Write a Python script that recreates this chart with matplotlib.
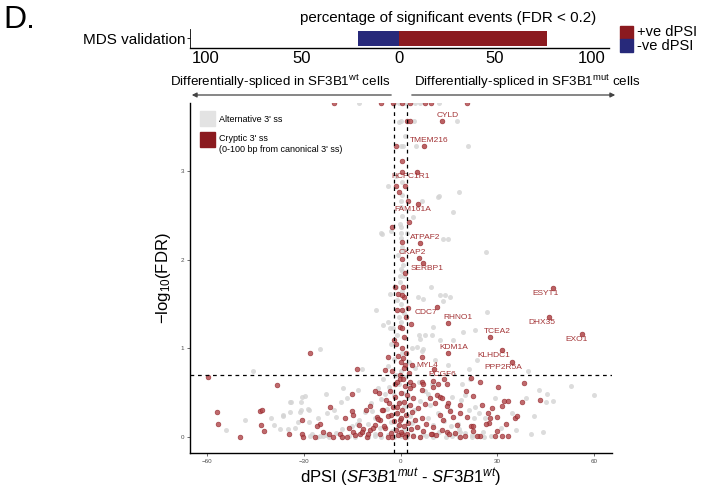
import matplotlib
matplotlib.use("Agg")
import matplotlib.pyplot as plt
from matplotlib.patches import Rectangle, FancyArrowPatch

plt.rcParams['font.family'] = 'Liberation Sans'
plt.rcParams['mathtext.fontset'] = 'custom'
plt.rcParams['mathtext.rm'] = 'Liberation Sans'
plt.rcParams['mathtext.it'] = 'Liberation Sans:italic'
plt.rcParams['mathtext.default'] = 'regular'

################
# DATA
################
# top bar: percentage of significant events
bar_categories = ["MDS validation"]
pos_pct = [77]
neg_pct = [21]

# labelled genes (dPSI, -log10 FDR)
gene_names = ["CYLD", "TMEM216", "HCFC1R1", "FAM161A", "ATPAF2", "CKAP2", "SERBP1",
              "CDC7", "RHNO1", "TCEA2", "ESYT1", "DHX35", "EXO1", "KDM1A", "KLHDC1",
              "PPP2R5A", "MYL4", "PCGF6"]
gene_dpsi = [12.8, 7.3, 5.2, 5.4, 6.0, 5.7, 7.0, 11.3, 14.7, 27.7, 47.2, 46.0, 56.2,
             14.7, 31.4, 34.5, 3.5, 10.4]
gene_fdr = [3.57, 3.28, 2.99, 2.63, 2.19, 2.02, 1.96, 1.47, 1.29, 1.13, 1.68, 1.35, 1.16,
            0.95, 0.98, 0.85, 0.81, 0.77]

# cryptic 3' ss events
red_dpsi = [-20.5, -6.0, -2.4, 0.5, 2.9, 7.6, 9.4, 20.5,
            1.9, 2.9, -1.5, 0.4, 0.4, -1.4, 1.4, -0.4, 2.2, -2.7, 2.7, 0.4, 0.4, 1.4, 0.7,
            -1.7, -0.7, 1.1, 0.4, -1.0, 0.4, 2.4, 1.7, 3.2, -0.2, 0.4, 1.2, -2.0, -3.8, 0.9,
            6.6, 1.4, -4.8, -0.2, -1.7, 2.9, 4.0,
            6.6, 7.1, 6.6, 10.0, 10.2, 11.2, 12.2, 13.6, 14.3, 11.5, 20.2, 21.7, 24.6, 30.2,
            38.1, 32.0, 33.4, 31.3, 37.5, 43.1, 25.1, 22.5, 18.4, 14.8, 12.9, 9.1, 10.7, 7.6,
            27.2, 29.8, 27.7, 27.5, 28.2, 35.4, 36.2, 32.7, 29.8, 29.3, 31.3, 33.4, 24.6, 23.6,
            21.7, 22.5, 20.0, 20.5, 17.6, 18.4, 15.3, 14.3, 16.3, 12.2, 13.1, 10.2, 9.7, 14.3,
            22.3, 26.5,
            -59.7, -28.0, -38.3, -56.7, -56.4, -49.7, -43.5, -43.0, -43.1, -42.2, -34.4, -30.5,
            -30.1, -26.5, -30.4, -24.9, -25.9, -23.9, -21.8, -15.1, -14.8, -17.2, -10.8, -9.4,
            -12.8, -13.6, -14.9, -7.9, -6.6, -22.0, -20.8, -18.7, -16.7, -14.6, -12.5, -11.7,
            -10.5, -9.4, -7.9, -7.4, -6.3, -5.3, -4.8, -3.5, -3.0, -1.2, -0.2, 0.4,
            -1.5, 0.5, 1.8, -0.8, 0.2, 1.0, -2.5, 2.5, -0.3, 0.8, -1.2, 1.5, 3.0, -3.2, 0.0,
            2.0, -1.8, 4.0, -4.5, 1.2, -0.6, 2.8, -2.2, 5.5, 0.5, -5.8, 3.5, -1.0, 1.8, -3.8,
            6.5, 0.0, -7.0, 4.5, -2.0, 2.3, 8.0, -0.5, -5.0, 1.0, 5.2, -8.5, 3.2, -1.5, 7.0,
            0.3, -3.0, 2.0, -6.2, 9.5, -0.8, 4.0, 1.5, -2.5, 6.0, -4.0, 11.0, -10.0, 13.0,
            -12.0, 15.0, 17.0, -14.0, -16.0, 18.5, -18.0]
red_fdr = [3.77, 3.77, 3.77, 3.77, 3.77, 3.77, 3.77, 3.77,
           3.57, 3.57, 3.28, 3.11, 2.99, 2.83, 2.83, 2.77, 2.66, 2.37, 2.43, 2.20, 2.01, 1.85,
           1.69, 1.69, 1.62, 1.58, 1.60, 1.43, 1.43, 1.46, 1.36, 1.28, 1.24, 1.23, 1.13, 1.09,
           0.90, 0.89, 0.90, 0.81, 0.76, 0.66, 0.60, 0.62, 0.59,
           0.62, 0.60, 0.53, 0.57, 0.63, 0.47, 0.45, 0.66, 0.60, 0.60, 0.52, 0.67, 0.62, 0.56,
           0.61, 0.41, 0.41, 0.35, 0.39, 0.42, 0.36, 0.46, 0.36, 0.38, 0.44, 0.44, 0.38, 0.37,
           0.27, 0.23, 0.21, 0.16, 0.33, 0.21, 0.24, 0.15, 0.07, 0.01, 0.01, 0.01, 0.01, 0.01,
           0.12, 0.07, 0.01, 0.23, 0.14, 0.27, 0.29, 0.35, 0.23, 0.25, 0.19, 0.11, 0.04, 0.06,
           0.12, 0.15,
           0.68, 0.95, 0.59, 0.28, 0.15, 0.00, 0.29, 0.30, 0.14, 0.07, 0.04, 0.04,
           0.00, 0.00, 0.19, 0.15, 0.12, 0.06, 0.34, 0.29, 0.25, 0.21, 0.31, 0.35,
           0.14, 0.77, 0.49, 0.52, 0.50, 0.04, 0.00, 0.04, 0.00, 0.06, 0.04, 0.09,
           0.00, 0.08, 0.14, 0.23, 0.19, 0.30, 0.10, 0.38, 0.25, 0.34, 0.19, 0.04,
           1.05, 1.00, 0.95, 0.92, 0.85, 0.78, 0.75, 0.72, 0.70, 0.65, 0.62, 0.58, 0.55, 0.52,
           0.50, 0.48, 0.45, 0.44, 0.42, 0.40, 0.38, 0.36, 0.34, 0.33, 0.31, 0.30, 0.28, 0.27,
           0.25, 0.24, 0.22, 0.21, 0.20, 0.19, 0.18, 0.16, 0.15, 0.14, 0.13, 0.12, 0.11, 0.10,
           0.09, 0.08, 0.07, 0.06, 0.05, 0.04, 0.03, 0.03, 0.02, 0.01, 0.00, 0.00, 0.00, 0.00,
           0.02, 0.04, 0.08, 0.06, 0.03, 0.05, 0.02, 0.10, 0.00, 0.00]

# alternative 3' ss events
grey_dpsi = [-12.8, -2.0, -0.5, 1.5, 4.5, 6.0, 12.0,
             0.2, 4.2, 17.6, 0.9, 4.8, 20.8, -3.8, 0.4, 12.0, 18.2, 0.2, 6.6, 11.5, -6.0, -5.8,
             -2.9, 0.0, 4.0, 0.1, 2.1, 16.3, 13.3, 14.8, 0.4, 0.7, 0.5, 26.5, 9.4, -1.4, -0.3,
             5.5, 7.1, 12.2, 13.8, 15.3, 13.3, -3.3, -7.6, 26.7, -3.8, -2.3, -5.3, -3.3, 10.2,
             5.8, 7.6, 9.7, 19.3, 23.1, 6.0, 12.2, 16.3, 5.0, 7.1, 6.6, 10.7, 14.8, 23.6, 39.6,
             52.9, 60.0, 21.3, 42.9, 45.5, 45.0, 47.1, 34.4, 35.8, 40.3, 44.0, 41.4, 31.0, 29.3,
             23.1, 18.9, 21.5, 9.7, 15.9, 24.4, 16.9, 25.6, 20.0, 18.7, 21.2, 22.8, 15.3, 17.9,
             18.4, 8.6, 26.2, 39.0,
             -24.9, -45.8, -54.1, -48.1, -40.2, -36.4, -37.3, -34.2, -30.8, -29.6, -31.6, -31.1,
             -33.9, -30.6, -23.2, -17.7, -13.1, -4.8, -36.3, -34.2, -30.9, -28.3, -28.3, -25.6,
             -22.9, -20.5, -20.0, -18.4, -16.7, -13.6, -8.9, -27.5, -24.9, -12.0, -39.1, -34.7,
             -32.7, -28.5,
             0.3, -0.5, 1.0, 0.0, -1.0, 0.6, -0.3, 1.2, 0.0, -0.8, 0.5, 0.2, -0.2, 0.6, 0.0,
             0.4, -1.5, 0.3, 1.5, -0.5,
             -1.0, 1.5, -3.0, 3.5, 0.5, -2.0, 2.5, -4.0, 4.5, 0.0, -1.5, 1.5, -5.5, 5.8, -0.5,
             3.0, -3.5, -7.0, 7.5, 0.8, -2.0, 2.2, -6.0, 6.0, -0.2, -9.0, 9.0, 1.0, -4.2, 4.2,
             -11.0, 11.5, -1.2, 2.8, -8.0, 8.5, 0.2, -13.0, 13.5, -3.0, 3.5, -10.0, 10.0, -0.7,
             -15.0, 15.5, 5.5, -6.5, -18.0, 18.0, 1.2, -2.5, -12.0, 12.0, -20.0, 20.0, 7.0, -8.0,
             0.0, -23.0, 22.0, -4.0, 4.0, -26.0, -22.0, -18.0, -14.0, -10.0, -6.0, -2.0, 2.0,
             6.0, 10.0, 14.0, 18.0, 22.0, 26.0, -28.0, 28.0, -24.0, 24.0, -16.0, 16.0, -8.0, 8.0,
             0.0]
grey_fdr = [3.77, 3.77, 3.77, 3.77, 3.77, 3.77, 3.77,
            3.57, 3.57, 3.57, 3.28, 3.28, 3.28, 2.83, 2.73, 2.72, 2.76, 2.66, 2.66, 2.71, 2.30,
            2.29, 2.32, 2.37, 2.48, 2.30, 2.30, 2.54, 2.23, 2.23, 2.14, 1.94, 1.87, 2.09, 1.69,
            1.69, 1.82, 1.58, 1.56, 1.60, 1.60, 1.58, 1.54, 1.62, 1.43, 1.41, 1.30, 1.23, 1.26,
            1.23, 1.24, 1.15, 1.15, 1.15, 1.18, 1.21, 1.11, 1.09, 1.09, 1.02, 0.99, 0.97, 0.87,
            0.81, 0.87, 0.74, 0.58, 0.47, 0.77, 0.53, 0.49, 0.40, 0.41, 0.27, 0.08, 0.04, 0.06,
            0.24, 0.10, 0.44, 0.34, 0.60, 0.66, 0.60, 0.45, 0.27, 0.04, 0.06, 0.47, 0.42, 0.30,
            0.22, 0.30, 0.15, 0.06, 0.49, 0.22, 0.44,
            0.99, 0.74, 0.08, 0.19, 0.22, 0.25, 0.09, 0.39, 0.40, 0.46, 0.17, 0.28,
            0.40, 0.45, 0.49, 0.55, 0.53, 0.49, 0.24, 0.28, 0.30, 0.30, 0.17, 0.21,
            0.27, 0.31, 0.23, 0.40, 0.44, 0.15, 0.29, 0.04, 0.01, 0.77, 0.14, 0.09,
            0.10, 0.32,
            1.30, 1.35, 1.40, 1.50, 1.55, 1.65, 1.75, 1.82, 1.90, 2.05, 2.10, 2.25, 2.40, 2.50,
            2.60, 2.88, 2.95, 3.28, 3.40, 3.55,
            1.15, 1.12, 1.05, 1.00, 0.95, 0.88, 0.85, 0.80, 0.78, 0.75, 0.70, 0.68, 0.65, 0.62,
            0.60, 0.58, 0.56, 0.55, 0.52, 0.50, 0.48, 0.45, 0.43, 0.41, 0.40, 0.38, 0.36, 0.34,
            0.32, 0.30, 0.28, 0.27, 0.26, 0.24, 0.22, 0.21, 0.20, 0.19, 0.18, 0.17, 0.16, 0.15,
            0.14, 0.13, 0.12, 0.12, 0.11, 0.10, 0.09, 0.09, 0.08, 0.07, 0.06, 0.06, 0.05, 0.05,
            0.04, 0.04, 0.03, 0.02, 0.02, 0.02, 0.02, 0.00, 0.00, 0.00, 0.00, 0.00, 0.00, 0.00,
            0.00, 0.00, 0.00, 0.00, 0.00, 0.00, 0.00, 0.01, 0.01, 0.01, 0.01, 0.01, 0.01, 0.01,
            0.01, 0.01]

# label offsets (points) from each gene's dot to its text
label_dx = [4, 4, -5, -4, 4, -5, 3, -8, 7, 5, -5, -5, -4, 4, -6, -6, 11, 6]
label_dy = [4, 4, -3, -4, 4, 4, -4, -4, 4, 4, -4, -4, -4, 4, -4, -4, 0, -4]

DARK_RED = "#8b1a1f"
NAVY = "#27297a"
LABEL_RED = "#a33436"

W, H = 704, 490


def fx(x):
    return x / W


def fy(y):
    return 1 - y / H


fig = plt.figure(figsize=(7.04, 4.9), dpi=100)

################
# TOP BAR PANEL
################
axb = fig.add_axes([fx(190), fy(48), (609 - 190) / W, 19 / H])
axb.barh(bar_categories, pos_pct, height=0.84, color=DARK_RED)
axb.barh(bar_categories, [-v for v in neg_pct], height=0.84, color=NAVY)
axb.set_xlim(-108, 109)
axb.set_ylim(-0.5, 0.5)
axb.set_xticks([-100, -50, 0, 50, 100])
axb.set_xticklabels(["100", "50", "0", "50", "100"])
axb.tick_params(axis='x', labelsize=12, length=0, pad=2)
axb.tick_params(axis='y', labelsize=11, length=2.5, width=0.6, pad=1)
for side in ["top", "right"]:
    axb.spines[side].set_visible(False)
axb.spines["bottom"].set_linewidth(1)
axb.spines["left"].set_linewidth(0.6)
fig.text(fx(448), fy(18), "percentage of significant events (FDR < 0.2)",
         ha='center', va='center', fontsize=10.9)

# bar legend
fig.patches.append(Rectangle((fx(620), fy(39)), 13 / W, 13 / H, color=DARK_RED,
                             transform=fig.transFigure))
fig.patches.append(Rectangle((fx(620), fy(52)), 13 / W, 13 / H, color=NAVY,
                             transform=fig.transFigure))
fig.text(fx(637), fy(32), "+ve dPSI", ha='left', va='center', fontsize=10.5)
fig.text(fx(637), fy(46), "-ve dPSI", ha='left', va='center', fontsize=10.5)

fig.text(fx(3), fy(20), "D.", ha='left', va='center', fontsize=23)

# direction arrows
arrow_style = dict(arrowstyle='-|>', color='#444444', lw=0.9, mutation_scale=7)
fig.patches.append(FancyArrowPatch((fx(394), fy(95)), (fx(189), fy(95)),
                                   transform=fig.transFigure, **arrow_style))
fig.patches.append(FancyArrowPatch((fx(409), fy(95)), (fx(618), fy(95)),
                                   transform=fig.transFigure, **arrow_style))
fig.text(fx(280), fy(82), "Differentially-spliced in SF3B1$^{wt}$ cells",
         ha='center', va='center', fontsize=9.6)
fig.text(fx(527), fy(82), "Differentially-spliced in SF3B1$^{mut}$ cells",
         ha='center', va='center', fontsize=9.6)

################
# VOLCANO PANEL
################
ax = fig.add_axes([fx(190), fy(453), (612 - 190) / W, 350 / H])
ax.scatter(grey_dpsi, grey_fdr, s=13, color='#d4d4d4', alpha=0.8, linewidths=0, zorder=2)
ax.scatter(red_dpsi, red_fdr, s=12, facecolor='#b04548', edgecolor='#8b1a1f',
           linewidths=0.4, alpha=0.8, zorder=3)
ax.scatter(gene_dpsi, gene_fdr, s=12, facecolor='#b04548', edgecolor='#8b1a1f',
           linewidths=0.4, alpha=0.85, zorder=3)
for name, gx, gy, dx, dy in zip(gene_names, gene_dpsi, gene_fdr, label_dx, label_dy):
    ax.annotate(name, (gx, gy), xytext=(dx, dy), textcoords='offset points',
                ha='center', va='center', fontsize=6, color=LABEL_RED, zorder=4)

ax.axhline(0.699, color='black', lw=0.9, ls=(0, (3, 3)), zorder=5)
ax.axvline(-2, color='black', lw=0.9, ls=(0, (3, 3)), zorder=5)
ax.axvline(2, color='black', lw=0.9, ls=(0, (3, 3)), zorder=5)

ax.set_xlim(-65.2, 65.5)
ax.set_ylim(-0.18, 3.77)
ax.set_xticks([-60, -30, 0, 30, 60])
ax.set_yticks([0, 1, 2, 3])
ax.tick_params(labelsize=4.5, labelcolor='#4d4d4d', length=2, width=0.5, color='#333333',
               pad=2)
for side in ["top", "right"]:
    ax.spines[side].set_visible(False)
ax.spines["bottom"].set_linewidth(1)
ax.spines["left"].set_linewidth(1)

ax.set_ylabel("\u2212log$_{10}$(FDR)", fontsize=12, labelpad=6)
ax.set_xlabel(r"dPSI ($\mathit{SF3B1}^{\mathit{mut}}$ - $\mathit{SF3B1}^{\mathit{wt}}$)",
              fontsize=12, labelpad=2)

# in-plot legend
fig.patches.append(Rectangle((fx(200), fy(126)), 15 / W, 15 / H, color='#e3e3e3',
                             transform=fig.transFigure, zorder=6))
fig.patches.append(Rectangle((fx(200), fy(147)), 15 / W, 15 / H, color=DARK_RED,
                             transform=fig.transFigure, zorder=6))
fig.text(fx(219), fy(119), "Alternative 3' ss", ha='left', va='center', fontsize=6.5)
fig.text(fx(219), fy(138), "Cryptic 3' ss", ha='left', va='center', fontsize=6.5)
fig.text(fx(219), fy(150), "(0-100 bp from canonical 3' ss)", ha='left', va='center',
         fontsize=6.5)

fig.savefig("out.png", dpi=100)
